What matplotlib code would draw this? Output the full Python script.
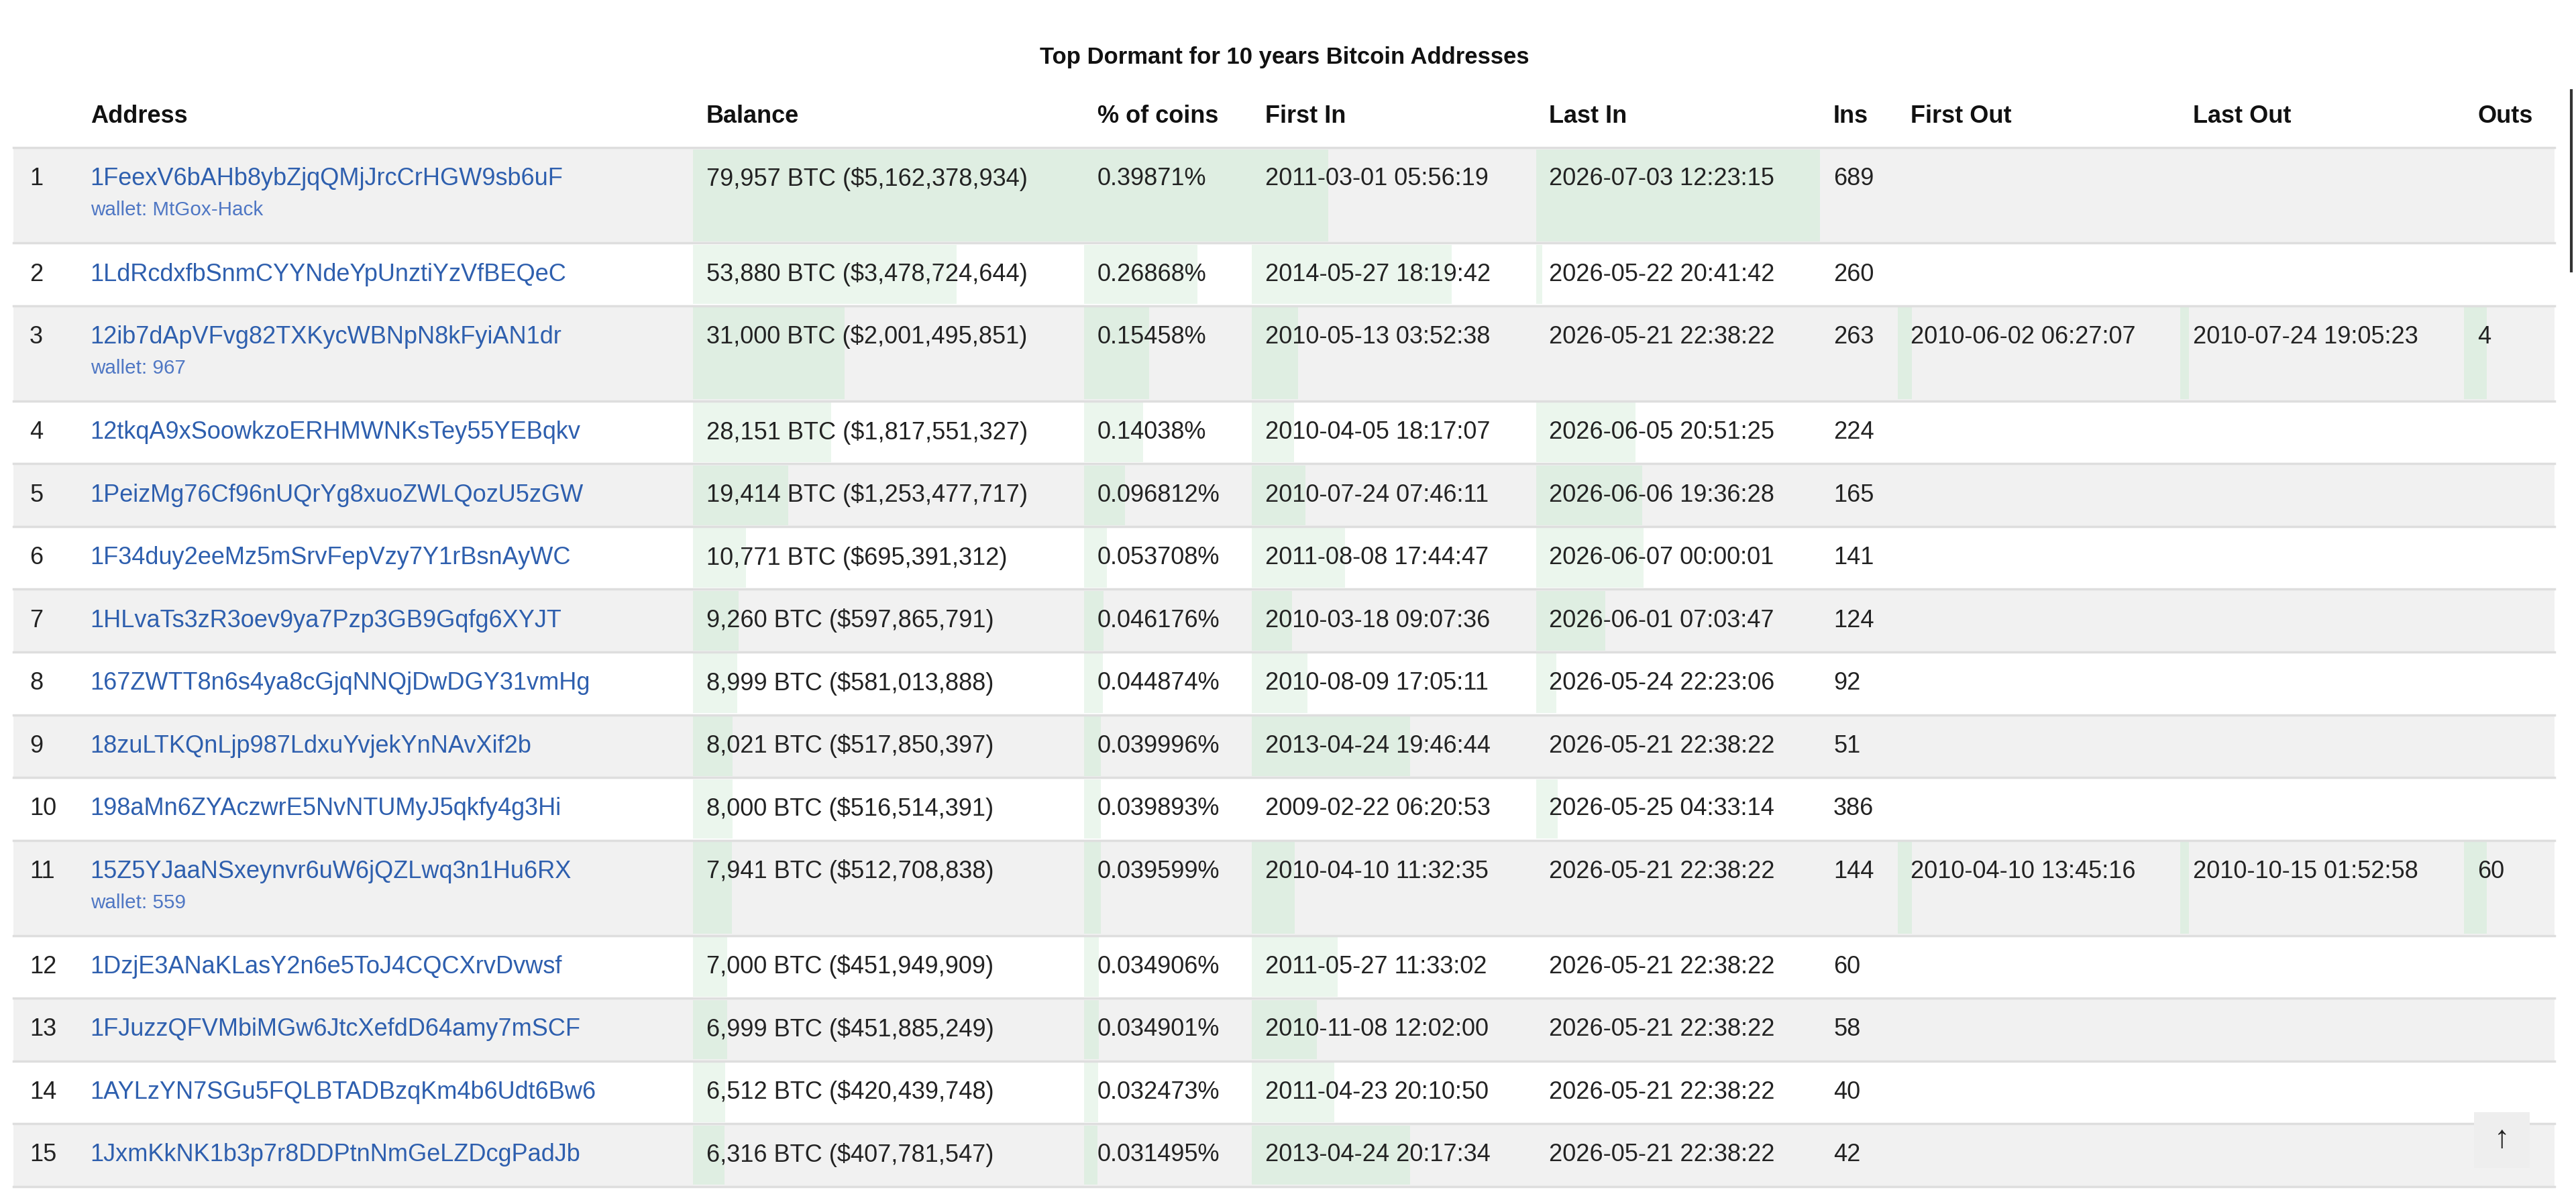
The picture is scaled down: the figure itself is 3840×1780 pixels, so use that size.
import matplotlib
matplotlib.use("Agg")
import matplotlib.pyplot as plt
from datetime import datetime

plt.rcParams['font.family'] = ['Liberation Sans', 'DejaVu Sans']

title = "Top Dormant for 10 years Bitcoin Addresses"
headers = ["Address", "Balance", "% of coins", "First In", "Last In", "Ins", "First Out", "Last Out", "Outs"]
addresses = ["1FeexV6bAHb8ybZjqQMjJrcCrHGW9sb6uF", "1LdRcdxfbSnmCYYNdeYpUnztiYzVfBEQeC",
             "12ib7dApVFvg82TXKycWBNpN8kFyiAN1dr", "12tkqA9xSoowkzoERHMWNKsTey55YEBqkv",
             "1PeizMg76Cf96nUQrYg8xuoZWLQozU5zGW", "1F34duy2eeMz5mSrvFepVzy7Y1rBsnAyWC",
             "1HLvaTs3zR3oev9ya7Pzp3GB9Gqfg6XYJT", "167ZWTT8n6s4ya8cGjqNNQjDwDGY31vmHg",
             "18zuLTKQnLjp987LdxuYvjekYnNAvXif2b", "198aMn6ZYAczwrE5NvNTUMyJ5qkfy4g3Hi",
             "15Z5YJaaNSxeynvr6uW6jQZLwq3n1Hu6RX", "1DzjE3ANaKLasY2n6e5ToJ4CQCXrvDvwsf",
             "1FJuzzQFVMbiMGw6JtcXefdD64amy7mSCF", "1AYLzYN7SGu5FQLBTADBzqKm4b6Udt6Bw6",
             "1JxmKkNK1b3p7r8DDPtnNmGeLZDcgPadJb"]
wallets = ["wallet: MtGox-Hack", "", "wallet: 967", "", "", "", "", "", "", "", "wallet: 559", "", "", "", ""]
btc = [79957, 53880, 31000, 28151, 19414, 10771, 9260, 8999, 8021, 8000, 7941, 7000, 6999, 6512, 6316]
usd = [5162378934, 3478724644, 2001495851, 1817551327, 1253477717, 695391312, 597865791, 581013888,
       517850397, 516514391, 512708838, 451949909, 451885249, 420439748, 407781547]
pct = ["0.39871%", "0.26868%", "0.15458%", "0.14038%", "0.096812%", "0.053708%", "0.046176%",
       "0.044874%", "0.039996%", "0.039893%", "0.039599%", "0.034906%", "0.034901%", "0.032473%", "0.031495%"]
first_in = ["2011-03-01 05:56:19", "2014-05-27 18:19:42", "2010-05-13 03:52:38", "2010-04-05 18:17:07",
            "2010-07-24 07:46:11", "2011-08-08 17:44:47", "2010-03-18 09:07:36", "2010-08-09 17:05:11",
            "2013-04-24 19:46:44", "2009-02-22 06:20:53", "2010-04-10 11:32:35", "2011-05-27 11:33:02",
            "2010-11-08 12:02:00", "2011-04-23 20:10:50", "2013-04-24 20:17:34"]
last_in = ["2026-07-03 12:23:15", "2026-05-22 20:41:42", "2026-05-21 22:38:22", "2026-06-05 20:51:25",
           "2026-06-06 19:36:28", "2026-06-07 00:00:01", "2026-06-01 07:03:47", "2026-05-24 22:23:06",
           "2026-05-21 22:38:22", "2026-05-25 04:33:14", "2026-05-21 22:38:22", "2026-05-21 22:38:22",
           "2026-05-21 22:38:22", "2026-05-21 22:38:22", "2026-05-21 22:38:22"]
ins = [689, 260, 263, 224, 165, 141, 124, 92, 51, 386, 144, 60, 58, 40, 42]
first_out = ["", "", "2010-06-02 06:27:07", "", "", "", "", "", "", "", "2010-04-10 13:45:16", "", "", "", ""]
last_out = ["", "", "2010-07-24 19:05:23", "", "", "", "", "", "", "", "2010-10-15 01:52:58", "", "", "", ""]
outs = ["", "", "4", "", "", "", "", "", "", "", "60", "", "", "", ""]
pct_vals = [float(p.rstrip('%')) for p in pct]

# layout (display units, 1568 x 727)
W, H = 1568, 727
col_x = [8, 47, 422, 660, 762, 935, 1108, 1155, 1327, 1500, 1555]
text_pad = 8
row_top = [90]
tall = [1 if w else 0 for w in wallets]
for t in tall:
    row_top.append(row_top[-1] + (58 if t else 38.2))

fig = plt.figure(figsize=(38.4, 17.8), dpi=100)
ax = fig.add_axes([0, 0, 1, 1])
ax.set_xlim(0, W)
ax.set_ylim(H, 0)
ax.axis('off')

fs = 26
green_g = "#dfeee2"
green_w = "#ebf6ed"

def parse(s):
    return datetime.strptime(s, "%Y-%m-%d %H:%M:%S").timestamp()

fi_min, fi_max = parse("2009-02-22 06:20:53"), parse("2016-08-20 00:00:00")
li_vals = [parse(s) for s in last_in]
li_min, li_max = min(li_vals), max(li_vals)
bmax = max(btc)
pmax = max(pct_vals)

for i in range(len(addresses)):
    y0, y1 = row_top[i], row_top[i + 1]
    h = y1 - y0
    yc = y0 + h / 2
    bg = "#f1f1f1" if i % 2 == 0 else "#ffffff"
    gr = green_g if i % 2 == 0 else green_w
    ax.barh(yc, col_x[-1] - col_x[0], left=col_x[0], height=h, color=bg, linewidth=0, zorder=1)
    fracs = {2: btc[i] / bmax, 3: pct_vals[i] / pmax,
             4: (parse(first_in[i]) - fi_min) / (fi_max - fi_min),
             5: (li_vals[i] - li_min) / (li_max - li_min)}
    if first_out[i]:
        fracs[7] = 0.05
        fracs[8] = 0.03
        fracs[9] = 0.25
    for c, f in fracs.items():
        if f > 0:
            ax.barh(yc, f * (col_x[c + 1] - col_x[c]), left=col_x[c], height=h - 2,
                    color=gr, linewidth=0, zorder=2)
    ax.plot([col_x[0], col_x[-1]], [y1, y1], color="#dedede", lw=2.5, zorder=3)
    ty = y0 + 19 if tall[i] else yc
    ax.text(col_x[0] + 10, ty, str(i + 1), fontsize=fs, va='center', color="#222222", zorder=4)
    ax.text(col_x[1] + text_pad, ty, addresses[i], fontsize=fs, va='center', color="#2e5fae", zorder=4)
    if wallets[i]:
        ax.text(col_x[1] + text_pad, ty + 19, wallets[i], fontsize=fs * 0.82, va='center',
                color="#4f77c4", zorder=4)
    vals = [f"{btc[i]:,} BTC (${usd[i]:,})", pct[i], first_in[i], last_in[i], str(ins[i]),
            first_out[i], last_out[i], outs[i]]
    for c, v in enumerate(vals):
        ax.text(col_x[c + 2] + text_pad, ty, v, fontsize=fs, va='center', color="#222222", zorder=4)

ax.plot([col_x[0], col_x[-1]], [90, 90], color="#dedede", lw=2.5, zorder=3)
for c, hd in enumerate(headers):
    ax.text(col_x[c + 1] + text_pad, 71, hd, fontsize=fs, va='center', fontweight='bold', color="#111111")
ax.text(782, 35, title, fontsize=fs * 0.96, va='center', ha='center', fontweight='bold', color="#111111")

# scrollbar hint and back-to-top button
ax.plot([1565, 1565], [55, 165], color="#333333", lw=3)
ax.barh(694, 34, left=1506, height=34, color="#eeeeee", linewidth=0, zorder=5)
ax.text(1523, 694, "↑", fontsize=fs * 1.3, ha='center', va='center', color="#222222", zorder=6)

fig.savefig("out.png", dpi=100, facecolor="white")
